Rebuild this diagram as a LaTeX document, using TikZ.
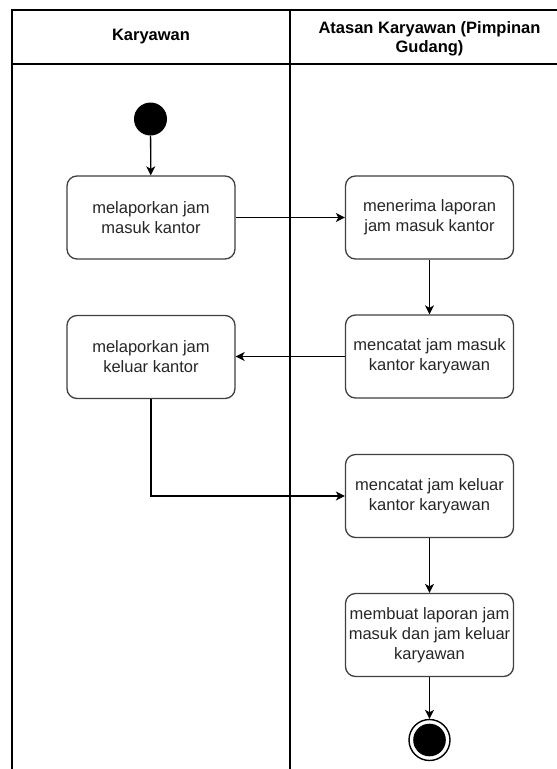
\documentclass[tikz,border=0pt]{standalone}
\usepackage{fontspec}
\setmainfont{Liberation Sans}
\usetikzlibrary{arrows.meta,positioning}

\tikzset{
  x=1pt, y=-1pt,
  lane/.style={draw=black, line width=1.3pt},
  lanetitle/.style={font=\fontsize{16.5}{18.5}\selectfont\bfseries, align=center, text=black},
  action/.style={draw=black!75, line width=1.3pt, rounded corners=10pt, fill=white,
    minimum width=168pt, minimum height=83pt, inner sep=1pt, align=center,
    font=\fontsize{16.5}{20}\selectfont, text=black!85},
  startnode/.style={circle, fill=black, minimum size=33pt, inner sep=0pt},
  endnode/.style={circle, draw=black, line width=1.4pt, fill=white, minimum size=41pt, inner sep=0pt},
  flow/.style={draw=black, line width=1.3pt, -{Stealth[length=9pt, width=9pt, inset=2.5pt]}},
}

\begin{document}
\begin{tikzpicture}
  \useasboundingbox (0,0) rectangle (557,769);
  \fill[white] (0,0) rectangle (557,769);

  % swimlane frame
  \draw[lane] (557,10) -- (12,10) -- (12,769);
  \draw[lane] (12,64) -- (557,64);
  \draw[lane] (290,10) -- (290,769);
  \node[lanetitle] (laneA) at (151,37) {Karyawan};
  \node[lanetitle] (laneB) at (429.5,39) {Atasan Karyawan (Pimpinan\\Gudang)};

  % start
  \node[startnode] (start) at (150.5,119) {};

  % actions
  \node[action] (b1) at (151,217.5) {melaporkan jam\\masuk kantor};
  \node[action] (b2) at (429.5,217.5) {menerima laporan\\jam masuk kantor};
  \node[action] (b3) at (429.5,356.5) {mencatat jam masuk\\kantor karyawan};
  \node[action] (b4) at (151,357) {melaporkan jam\\keluar kantor};
  \node[action] (b5) at (429.5,496) {mencatat jam keluar\\kantor karyawan};
  \node[action] (b6) at (429.5,635) {membuat laporan jam\\masuk dan jam keluar\\karyawan};

  % end
  \node[endnode] (finish) at (429.5,740) {};
  \fill[black] (finish.center) circle (16.3pt);

  % flows
  \draw[flow] (start) -- (b1);
  \draw[flow] (b1) -- (b2);
  \draw[flow] (b2) -- (b3);
  \draw[flow] (b3.west) -- (b4.east |- b3.west);
  \draw[flow] (b4.south) |- (b5.west);
  \draw[flow] (b5) -- (b6);
  \draw[flow] (b6) -- (finish);
\end{tikzpicture}
\end{document}
